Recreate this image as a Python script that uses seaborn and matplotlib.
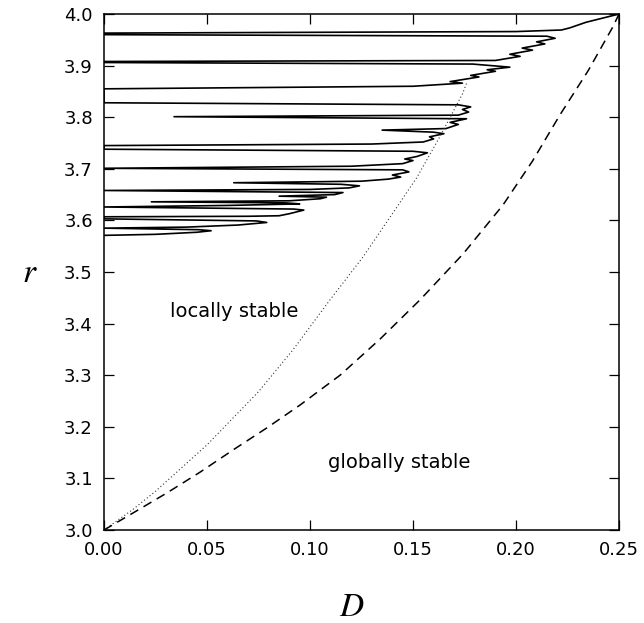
import numpy as np
import pandas as pd
import matplotlib
matplotlib.use("Agg")
import matplotlib.pyplot as plt
import seaborn as sns

# Boundary of the synchronised-chaos region: vertices ordered by r.
# Excursions to D = 0 are the periodic windows of the logistic map.
boundary_D = [
    0.000, 0.025, 0.045, 0.052, 0.046, 0.000, 0.040, 0.065, 0.079, 0.074,
    0.000, 0.000, 0.070, 0.085, 0.090, 0.097, 0.092, 0.000, 0.060, 0.095,
    0.088, 0.023, 0.090, 0.105, 0.108, 0.085, 0.112, 0.116, 0.000, 0.100,
    0.119, 0.124, 0.115, 0.063, 0.125, 0.138, 0.144, 0.140, 0.148, 0.145,
    0.000, 0.120, 0.145, 0.150, 0.146, 0.152, 0.157, 0.150, 0.000, 0.000,
    0.130, 0.155, 0.160, 0.158, 0.165, 0.160, 0.135, 0.166, 0.172, 0.168,
    0.176, 0.034, 0.172, 0.177, 0.174, 0.178, 0.172, 0.000, 0.000, 0.150,
    0.174, 0.168, 0.182, 0.178, 0.190, 0.186, 0.197, 0.179, 0.000, 0.000,
    0.190, 0.202, 0.197, 0.208, 0.203, 0.214, 0.210, 0.219, 0.215, 0.000,
    0.000, 0.200, 0.222, 0.226, 0.234, 0.242, 0.250,
]
boundary_r = [
    3.571, 3.573, 3.577, 3.580, 3.582, 3.585, 3.587, 3.591, 3.596, 3.599,
    3.603, 3.607, 3.608, 3.609, 3.613, 3.620, 3.622, 3.626, 3.629, 3.632,
    3.634, 3.636, 3.638, 3.642, 3.645, 3.647, 3.650, 3.654, 3.658, 3.660,
    3.663, 3.667, 3.670, 3.673, 3.676, 3.680, 3.684, 3.688, 3.694, 3.698,
    3.701, 3.705, 3.710, 3.716, 3.719, 3.724, 3.731, 3.734, 3.738, 3.745,
    3.748, 3.752, 3.758, 3.762, 3.768, 3.771, 3.775, 3.778, 3.786, 3.790,
    3.797, 3.801, 3.804, 3.810, 3.815, 3.820, 3.824, 3.828, 3.855, 3.860,
    3.866, 3.869, 3.878, 3.881, 3.889, 3.892, 3.897, 3.903, 3.906, 3.908,
    3.910, 3.918, 3.922, 3.930, 3.934, 3.942, 3.946, 3.953, 3.957, 3.960,
    3.963, 3.966, 3.969, 3.973, 3.984, 3.992, 4.000,
]

# Local stability limit (dotted)
local_D = [0.000, 0.0141, 0.025, 0.050, 0.075, 0.0917, 0.1097, 0.1257,
           0.1422, 0.152, 0.163, 0.174, 0.176]
local_r = [3.000, 3.040, 3.075, 3.165, 3.268, 3.349, 3.446, 3.529,
           3.626, 3.684, 3.762, 3.845, 3.866]

# Global stability limit (dashed)
global_D = [0.000, 0.0141, 0.0306, 0.0466, 0.0626, 0.0791, 0.0951, 0.1146,
            0.1340, 0.1534, 0.1743, 0.1937, 0.2080, 0.2214, 0.2350, 0.2470,
            0.250]
global_r = [3.000, 3.033, 3.072, 3.112, 3.155, 3.198, 3.242, 3.300,
            3.370, 3.446, 3.535, 3.630, 3.715, 3.805, 3.890, 3.975,
            4.000]

x_ticks = [0.00, 0.05, 0.10, 0.15, 0.20, 0.25]
y_ticks = [3.0, 3.1, 3.2, 3.3, 3.4, 3.5, 3.6, 3.7, 3.8, 3.9, 4.0]

sns.set_theme(style="ticks")
plt.rcParams["font.family"] = ["DejaVu Sans"]
plt.rcParams["mathtext.fontset"] = "stix"
plt.rcParams["text.color"] = "black"

fig = plt.figure(figsize=(6.44, 6.23), dpi=100)
ax = fig.add_axes([0.1615, 0.1493, 0.7997, 0.8282])

sns.lineplot(x=boundary_D, y=boundary_r, sort=False, estimator=None,
             color="black", lw=1.2, ax=ax)
sns.lineplot(x=local_D, y=local_r, sort=False, estimator=None,
             color="#333333", lw=0.8, linestyle=(0, (1, 2.2)), ax=ax)
sns.lineplot(x=global_D, y=global_r, sort=False, estimator=None,
             color="black", lw=1.1, linestyle=(0, (6.0, 4.0)), ax=ax)

ax.set_xlim(0, 0.25)
ax.set_ylim(3.0, 4.0)
ax.set_xticks(x_ticks)
ax.set_yticks(y_ticks)
ax.set_xticklabels([f"{v:.2f}" for v in x_ticks])
ax.set_yticklabels([f"{v:.1f}" for v in y_ticks])

ax.tick_params(direction="in", length=7.5, width=0.9, top=True, right=True,
               labelsize=13, colors="black", pad=8)
for s in ax.spines.values():
    s.set_visible(True)
    s.set_linewidth(1.1)
    s.set_color("black")

ax.set_xlabel("$D$", fontsize=24, va="center", color="black")
ax.xaxis.set_label_coords(0.4816, -0.149)
ax.set_ylabel("$r$", fontsize=24, rotation=0, ha="center", va="center",
              color="black")
ax.yaxis.set_label_coords(-0.1437, 0.50)

ax.text(0.0631, 3.4225, "locally stable", fontsize=14, ha="center",
        va="center", color="black")
ax.text(0.1432, 3.130, "globally stable", fontsize=14, ha="center",
        va="center", color="black")

fig.savefig("out.png", dpi=100, facecolor="white")
